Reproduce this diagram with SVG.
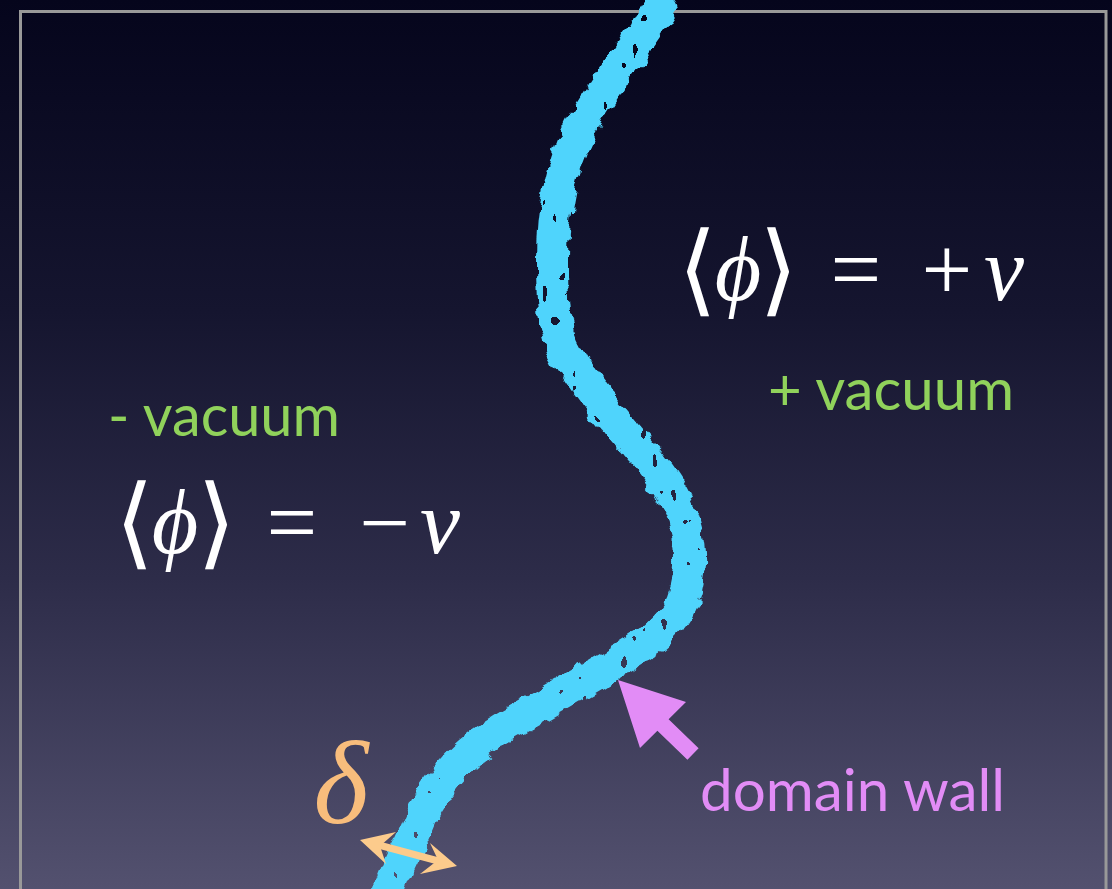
<svg xmlns="http://www.w3.org/2000/svg" width="1112" height="889" viewBox="0 0 1112 889">
<defs>
<linearGradient id="bg" x1="0" y1="0" x2="0" y2="1">
<stop offset="0" stop-color="#05051c"/>
<stop offset="0.35" stop-color="#15152f"/>
<stop offset="0.65" stop-color="#2d2c49"/>
<stop offset="1" stop-color="#53516f"/>
</linearGradient>
<filter id="rough" filterUnits="userSpaceOnUse" x="0" y="0" width="1112" height="889">
<feTurbulence type="fractalNoise" baseFrequency="0.07" numOctaves="2" seed="3" result="n"/>
<feDisplacementMap in="SourceGraphic" in2="n" scale="14" xChannelSelector="R" yChannelSelector="G" result="d"/>
<feTurbulence type="fractalNoise" baseFrequency="0.1 0.07" numOctaves="1" seed="11" result="n2"/>
<feComponentTransfer in="n2" result="holes"><feFuncA type="discrete" tableValues="0 0 0 0 0 0 0 0 0 0 0 0 0 0 0 0 0 0 1 1 1 1 1 1 1"/></feComponentTransfer>
<feComposite in="d" in2="holes" operator="out"/>
</filter>
<style>
.math{font-family:"Liberation Serif","DejaVu Serif",serif;fill:#ffffff;text-anchor:middle}
.it{font-style:italic}
.br{font-family:"DejaVu Sans","Liberation Serif",sans-serif;font-weight:200}
.lbl{font-family:Lato,"Open Sans",sans-serif;font-size:58px}
.green{fill:#90d25b}
.pink{fill:#e28cf6}
</style>
</defs>
<rect x="0" y="0" width="1112" height="889" fill="url(#bg)"/>
<rect x="20.5" y="11.5" width="1085.5" height="920" fill="none" stroke="#999999" stroke-width="3"/>

<g id="domain-wall-line">
<path d="M 660 8 C 640 40, 600 90, 580 130 C 560 170, 552 210, 552 260 C 552 300, 553 330, 568 355 C 585 385, 610 415, 640 450 C 670 485, 692 520, 690 565 C 688 600, 675 620, 650 640 C 620 660, 570 690, 520 718 C 470 745, 440 775, 420 820 C 408 850, 395 870, 388 895" fill="none" stroke="#50d4fc" stroke-width="32" stroke-linecap="round" filter="url(#rough)"/>
</g>

<g id="minus-vacuum">
<text class="lbl green" x="108" y="436" textLength="232" lengthAdjust="spacingAndGlyphs">- vacuum</text>
<text class="math" font-size="90"><tspan class="br" x="134" y="556" font-size="100">⟨</tspan><tspan class="it" x="175" y="553">ϕ</tspan><tspan class="br" x="216" y="556" font-size="100">⟩</tspan><tspan x="292" y="553">=</tspan><tspan x="385" y="553">−</tspan><tspan class="it" x="440" y="553">v</tspan></text>
</g>

<g id="plus-vacuum">
<text class="math" font-size="90"><tspan class="br" x="697" y="303" font-size="100">⟨</tspan><tspan class="it" x="738" y="300">ϕ</tspan><tspan class="br" x="778" y="303" font-size="100">⟩</tspan><tspan x="856" y="300">=</tspan><tspan x="947" y="300">+</tspan><tspan class="it" x="1004" y="300">v</tspan></text>
<text class="lbl green" x="768" y="410" textLength="246" lengthAdjust="spacingAndGlyphs">+ vacuum</text>
</g>

<g id="domain-wall-label">
<polygon class="pink" points="618,680 686,702 668.6,719.3 698.6,748.3 687.4,759.7 657.4,730.7 640,748"/>
<text class="lbl pink" x="700" y="811" textLength="305" lengthAdjust="spacingAndGlyphs">domain wall</text>
</g>

<g id="thickness">
<text class="math it" x="341" y="823" font-size="118" style="fill:#f8bd7c">δ</text>
<line x1="375" y1="844" x2="442" y2="862" stroke="#fccb8c" stroke-width="7"/>
<polygon points="360,840 396,832 380,846 386,864" fill="#fccb8c"/>
<polygon points="457,866 430,843 438,860 420,874" fill="#fccb8c"/>
</g>
</svg>
